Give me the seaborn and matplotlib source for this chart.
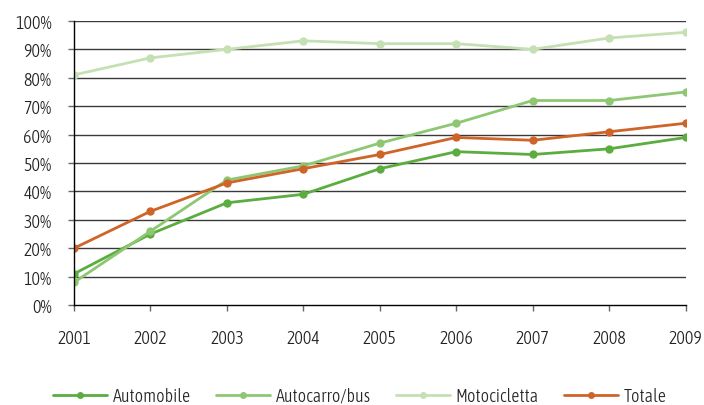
import pandas as pd
import numpy as np
import matplotlib.pyplot as plt
import matplotlib.ticker as mticker
import seaborn as sns

# data
years       = [2001, 2002, 2003, 2004, 2005, 2006, 2007, 2008, 2009]
automobile  = [11, 25, 36, 39, 48, 54, 53, 55, 59]
autocarro   = [8, 26, 44, 49, 57, 64, 72, 72, 75]
moto        = [81, 87, 90, 93, 92, 92, 90, 94, 96]
totale      = [20, 33, 43, 48, 53, 59, 58, 61, 64]
series_names = ["Automobile", "Autocarro/bus", "Motocicletta", "Totale"]
colors       = ["#5aad3e", "#8ec772", "#c5e0b3", "#cf6428"]

df = pd.DataFrame({
    "year": years * 4,
    "value": automobile + autocarro + moto + totale,
    "serie": sum([[n] * len(years) for n in series_names], []),
})

sns.set_style("white")
# condensed face to mimic the original; falls back to Open Sans
plt.rcParams["font.family"] = ["Asap Condensed", "Open Sans", "DejaVu Sans"]
plt.rcParams["font.weight"] = 300
FS = 13

fig = plt.figure(figsize=(7.04, 4.06), dpi=100)
ax = fig.add_axes([0.105, 0.246, 0.869, 0.700])

for y in range(10, 101, 10):
    ax.axhline(y, color="#3a3a3a", lw=1.0, zorder=0)

sns.lineplot(data=df, x="year", y="value", hue="serie", hue_order=series_names,
             palette=colors, marker="o", markersize=6, markeredgewidth=0,
             linewidth=2, ax=ax)

ax.set_xlim(2001, 2009)
ax.set_ylim(0, 100)
ax.set_xticks(years)
ax.set_yticks(range(0, 101, 10))
ax.yaxis.set_major_formatter(mticker.FuncFormatter(lambda v, _: f"{v:.0f}%"))
ax.set_xlabel("")
ax.set_ylabel("")
for s in ["top", "right"]:
    ax.spines[s].set_visible(False)
for s in ["left", "bottom"]:
    ax.spines[s].set_color("black")
    ax.spines[s].set_linewidth(1.0)
ax.tick_params(axis="both", which="major", length=4, width=1, color="#666666",
               labelsize=FS, labelcolor="#222222", direction="out",
               left=True, bottom=True)
ax.tick_params(axis="x", pad=13)
ax.tick_params(axis="y", pad=12)

ax.legend(loc="center left", bbox_to_anchor=(53 / 704, 1 - 397 / 406),
          bbox_transform=fig.transFigure, ncol=4, frameon=False,
          fontsize=FS, handlelength=3.0, columnspacing=1.4,
          handletextpad=0.3, borderpad=0, borderaxespad=0)
leg = ax.get_legend()
for h in leg.legend_handles:
    h.set_markersize(5)

fig.savefig("out.png", dpi=100)
